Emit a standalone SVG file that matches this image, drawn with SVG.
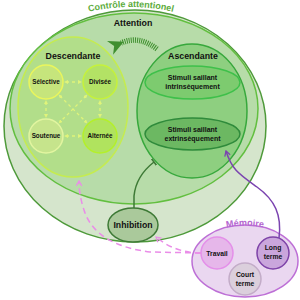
<svg xmlns="http://www.w3.org/2000/svg" width="300" height="300" viewBox="0 0 300 300">
<style>
text{font-family:"Liberation Sans",Arial,sans-serif;font-weight:bold;fill:#111;text-anchor:middle}
.sub{font-size:6.3px}
.mem{font-size:6.8px}
.stim{font-size:7px}
.big{font-size:8.8px}
.dd{fill:none;stroke:#e0f47a;stroke-width:1.3;stroke-dasharray:3 3;marker-start:url(#ya);marker-end:url(#ya)}
.pk{fill:none;stroke:#ea8de8;stroke-width:1.5;stroke-dasharray:6 4}
</style>
<defs>
<marker id="ya" viewBox="0 0 10 10" refX="5" refY="5" markerWidth="4" markerHeight="4" orient="auto-start-reverse" markerUnits="userSpaceOnUse"><path d="M0,0 L10,5 L0,10 z" fill="#e0f47a"/></marker>
<marker id="pa" viewBox="0 0 10 10" refX="8" refY="5" markerWidth="7" markerHeight="7" orient="auto" markerUnits="userSpaceOnUse"><path d="M1,1 L8,5 L1,9" fill="none" stroke="#ea8de8" stroke-width="1.8"/></marker>
<marker id="va" viewBox="0 0 10 10" refX="8" refY="5" markerWidth="7" markerHeight="7" orient="auto" markerUnits="userSpaceOnUse"><path d="M1,1 L8,5 L1,9" fill="none" stroke="#7b44b0" stroke-width="1.8"/></marker>
<marker id="tb" viewBox="0 0 10 10" refX="5" refY="5" markerWidth="8" markerHeight="8" orient="auto" markerUnits="userSpaceOnUse"><path d="M5,0 L5,10" stroke="#3e7a36" stroke-width="2"/></marker>
<marker id="ga" viewBox="0 0 10 10" refX="2" refY="5" markerWidth="15" markerHeight="15" orient="auto" markerUnits="userSpaceOnUse"><path d="M0,5 L10,0 L7,5 L10,10 z" fill="#3f8f2f"/></marker>
<path id="arcC" d="M 56,23.1 A 150 120 0 0 1 206,23.1"/>
<path id="arcM" d="M 215,231 A 60 40 0 0 1 275,231"/>
</defs>

<g id="controle">
<ellipse cx="135" cy="126" rx="131" ry="116" fill="#d5e5cc" stroke="#4e9a3a" stroke-width="1.5"/>
<text font-size="9" style="fill:#5cac3c"><textPath href="#arcC" startOffset="50%">Contrôle attentionel</textPath></text>
</g>
<g id="attention">
<ellipse cx="134" cy="108.5" rx="124" ry="95.5" fill="#b7dca9" stroke="#62bf3f" stroke-width="1.5"/>
<text x="133" y="25.5" class="big">Attention</text>
</g>
<g id="descendante">
<ellipse cx="73" cy="107" rx="55" ry="70" fill="#b2de8a" stroke="#c5ec4f" stroke-width="1.5"/>
<text x="73" y="59" class="big">Descendante</text>
</g>
<g id="ascendante">
<ellipse cx="192" cy="111" rx="55" ry="67" fill="#8ecf80" stroke="#37a83c" stroke-width="1.5"/>
<text x="193" y="59" class="big">Ascendante</text>
</g>
<g id="intrinseque">
<ellipse cx="192.5" cy="82.5" rx="47.5" ry="16.5" fill="#7dcb6f" stroke="#3ec04a" stroke-width="1.5"/>
<text x="192.5" y="80" class="stim">Stimuli saillant</text>
<text x="192.5" y="88.5" class="stim">intrinsèquement</text>
</g>
<g id="extrinseque">
<ellipse cx="192.5" cy="134" rx="47.5" ry="16" fill="#6cb862" stroke="#2f8b3b" stroke-width="1.5"/>
<text x="192.5" y="131.5" class="stim">Stimuli saillant</text>
<text x="192.5" y="140.5" class="stim">extrinsèquement</text>
</g>
<g id="selective">
<circle cx="46" cy="82" r="17" fill="#c6e57c" stroke="#eaf65c" stroke-width="1.5"/>
<text x="46" y="84.3" class="sub">Sélective</text>
</g>
<g id="divisee">
<circle cx="100" cy="82" r="17" fill="#b3e265" stroke="#c6f23a" stroke-width="1.5"/>
<text x="100" y="84.3" class="sub">Divisée</text>
</g>
<g id="soutenue">
<circle cx="46" cy="136" r="17" fill="#c6e48c" stroke="#e2f5a0" stroke-width="1.5"/>
<text x="46" y="138.3" class="sub">Soutenue</text>
</g>
<g id="alternee">
<circle cx="100" cy="136" r="17" fill="#b0e35e" stroke="#b4f02a" stroke-width="1.5"/>
<text x="100" y="138.3" class="sub">Alternée</text>
</g>
<g id="inhibition">
<ellipse cx="133" cy="225" rx="25" ry="17" fill="#aac99b" stroke="#3e7a36" stroke-width="1.5"/>
<text x="133" y="228" font-size="8.7">Inhibition</text>
</g>
<g id="memoire">
<ellipse cx="245" cy="261" rx="53" ry="36" fill="#ead7f0" stroke="#bd6fd6" stroke-width="1.5"/>
<text font-size="9" style="fill:#b567d0"><textPath href="#arcM" startOffset="50%">Mémoire</textPath></text>
</g>
<g id="travail">
<circle cx="217" cy="253" r="16" fill="#e6b7ea" stroke="#e48fe9" stroke-width="1.5"/>
<text x="217" y="255.5" class="mem">Travail</text>
</g>
<g id="longterme">
<circle cx="273" cy="253" r="16" fill="#caa6dc" stroke="#7e43a8" stroke-width="1.5"/>
<text x="273" y="250" class="mem">Long</text>
<text x="273" y="259.3" class="mem">terme</text>
</g>
<g id="courtterme">
<circle cx="245" cy="279" r="16" fill="#dbcfdc" stroke="#c3acc8" stroke-width="1.5"/>
<text x="245" y="277.3" class="mem">Court</text>
<text x="245" y="285.7" class="mem">terme</text>
</g>

<g id="connectors">
<path class="dd" d="M66,82 L80,82"/>
<path class="dd" d="M66,136 L80,136"/>
<path class="dd" d="M46,102 L46,116"/>
<path class="dd" d="M100,102 L100,116"/>
<path class="dd" d="M60,96 L86,122"/>
<path class="dd" d="M86,96 L60,122"/>
<path d="M157,49 Q139,35 121,43" fill="none" stroke="#3f8f2f" stroke-width="5.5" stroke-dasharray="1 1.1" marker-end="url(#ga)"/>
<path d="M134,208 L134,196 Q136,176 154,162" fill="none" stroke="#3e7a36" stroke-width="1.5" marker-end="url(#tb)"/>
<path d="M279,238 C282,215 275,200 257,187 S232,170 226,151" fill="none" stroke="#7b44b0" stroke-width="1.5" marker-end="url(#va)"/>
<path class="pk" d="M201,253 L150,252 Q95,245 84,210 Q79,195 79,181" marker-end="url(#pa)"/>
<path class="pk" d="M201,253 Q175,253 156,237" marker-end="url(#pa)"/>
</g>
</svg>
